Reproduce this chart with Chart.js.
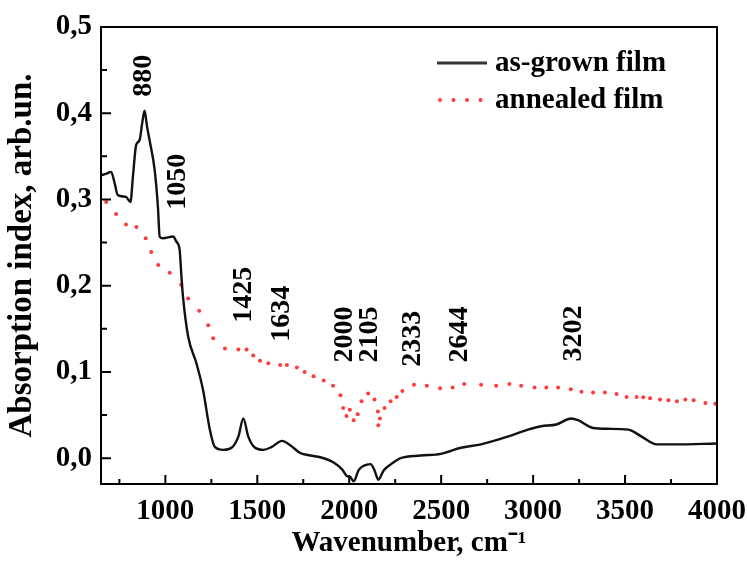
<!DOCTYPE html>
<html>
<head>
<meta charset="utf-8">
<script src="https://cdn.jsdelivr.net/npm/chart.js@4"></script>
<style>
  html, body { margin: 0; padding: 0; background: #fff; }
</style>
</head>
<body>
<canvas id="ftir-chart" width="747" height="561"></canvas>
<script>
// as-grown film (solid black line)
const asGrownX = [650, 680, 705, 725, 741, 786, 810, 825, 841, 860, 875, 887, 900, 914, 942, 960, 969, 987,
  1042, 1060, 1078, 1087, 1096, 1124, 1169, 1205, 1242, 1269, 1315, 1360, 1397, 1424, 1451, 1488, 1533,
  1579, 1634, 1679, 1733, 1788, 1843, 1915, 1961, 1988, 2006, 2024, 2051, 2078, 2116, 2137, 2158, 2188,
  2234, 2280, 2389, 2498, 2607, 2717, 2862, 2972, 3044, 3126, 3208, 3244, 3326, 3408, 3518, 3590, 3672,
  3772, 4000];
const asGrownY = [0.328, 0.330, 0.332, 0.318, 0.305, 0.303, 0.297, 0.330, 0.363, 0.369, 0.390, 0.403, 0.385,
  0.369, 0.334, 0.290, 0.257, 0.255, 0.257, 0.251, 0.241, 0.212, 0.187, 0.141, 0.110, 0.079, 0.033, 0.013,
  0.0096, 0.012, 0.025, 0.046, 0.025, 0.012, 0.0096, 0.013, 0.020, 0.015, 0.006, 0.003, 0.001, -0.005,
  -0.013, -0.021, -0.022, -0.027, -0.014, -0.009, -0.007, -0.014, -0.025, -0.014, -0.006, 0.0, 0.003,
  0.005, 0.012, 0.016, 0.025, 0.033, 0.037, 0.039, 0.046, 0.044, 0.035, 0.034, 0.033, 0.025, 0.016,
  0.016, 0.017];

// annealed film (red dots)
const annealedX = [678, 732, 786, 843, 893, 923, 961, 1024, 1086, 1124, 1184, 1233, 1260, 1324, 1397, 1442,
  1478, 1515, 1560, 1624, 1661, 1715, 1757, 1806, 1861, 1912, 1952, 1967, 1985, 2003, 2024, 2046, 2067,
  2103, 2137, 2156, 2158, 2167, 2192, 2225, 2258, 2289, 2352, 2422, 2494, 2562, 2625, 2717, 2799, 2871,
  2935, 3008, 3072, 3136, 3205, 3263, 3326, 3390, 3454, 3508, 3563, 3599, 3636, 3690, 3736, 3782, 3828,
  3873, 3937, 3991];
const annealedY = [0.297, 0.283, 0.271, 0.268, 0.255, 0.239, 0.224, 0.215, 0.201, 0.185, 0.171, 0.154, 0.139,
  0.127, 0.126, 0.126, 0.119, 0.113, 0.110, 0.108, 0.108, 0.105, 0.100, 0.095, 0.090, 0.084, 0.073, 0.058,
  0.049, 0.056, 0.044, 0.051, 0.066, 0.075, 0.068, 0.054, 0.038, 0.046, 0.058, 0.066, 0.071, 0.078, 0.085,
  0.084, 0.081, 0.082, 0.086, 0.085, 0.084, 0.086, 0.084, 0.082, 0.082, 0.082, 0.080, 0.077, 0.076, 0.076,
  0.0745, 0.071, 0.071, 0.0707, 0.0695, 0.068, 0.067, 0.066, 0.068, 0.067, 0.064, 0.063];

// peak labels: text, wavenumber of label centre, value at label foot
const peakLabels = ['880', '1050', '1425', '1634', '2000', '2105', '2333', '2644', '3202'];
const peakX = [877, 1060, 1420, 1630, 1968, 2106, 2341, 2596, 3216];
const peakY = [0.419, 0.288, 0.157, 0.135, 0.111, 0.111, 0.106, 0.111, 0.112];

const xTickValues = [1000, 1500, 2000, 2500, 3000, 3500, 4000];
const yTickValues = [0, 0.1, 0.2, 0.3, 0.4, 0.5];
const xMinor = [750, 1250, 1750, 2250, 2750, 3250, 3750];
const yMinor = [0.05, 0.15, 0.25, 0.35, 0.45];

const serif = '"Liberation Serif", "Times New Roman", serif';
const bigFont = { family: serif, size: 29, weight: 'bold' };

function toPoints(xs, ys) {
  return xs.map((x, i) => ({ x: x, y: ys[i] }));
}

// frame + inward ticks (like Origin)
const framePlugin = {
  id: 'frame',
  afterDraw(chart) {
    const { ctx, chartArea: a, scales } = chart;
    ctx.save();
    ctx.strokeStyle = '#000';
    ctx.lineWidth = 2;
    ctx.strokeRect(a.left, a.top, a.right - a.left, a.bottom - a.top);
    ctx.beginPath();
    xTickValues.forEach(v => {
      const px = scales.x.getPixelForValue(v);
      ctx.moveTo(px, a.bottom); ctx.lineTo(px, a.bottom - 9);
    });
    xMinor.forEach(v => {
      const px = scales.x.getPixelForValue(v);
      ctx.moveTo(px, a.bottom); ctx.lineTo(px, a.bottom - 5);
    });
    yTickValues.forEach(v => {
      const py = scales.y.getPixelForValue(v);
      ctx.moveTo(a.left, py); ctx.lineTo(a.left + 10, py);
    });
    yMinor.forEach(v => {
      const py = scales.y.getPixelForValue(v);
      ctx.moveTo(a.left, py); ctx.lineTo(a.left + 6, py);
    });
    ctx.stroke();
    ctx.restore();
  }
};

const peakPlugin = {
  id: 'peaks',
  afterDatasetsDraw(chart) {
    const { ctx, scales } = chart;
    ctx.save();
    ctx.fillStyle = '#000';
    ctx.font = 'bold 28px ' + serif;
    ctx.textAlign = 'left';
    ctx.textBaseline = 'middle';
    peakLabels.forEach((txt, i) => {
      ctx.save();
      ctx.translate(scales.x.getPixelForValue(peakX[i]), scales.y.getPixelForValue(peakY[i]));
      ctx.rotate(-Math.PI / 2);
      ctx.fillText(txt, 0, 1);
      ctx.restore();
    });
    ctx.restore();
  }
};

const legendPlugin = {
  id: 'innerLegend',
  afterDraw(chart) {
    const { ctx, chartArea: a } = chart;
    const x0 = a.right - 280;
    const y1 = a.top + 36, y2 = a.top + 73;
    ctx.save();
    ctx.strokeStyle = '#333';
    ctx.lineWidth = 3;
    ctx.beginPath();
    ctx.moveTo(x0, y1); ctx.lineTo(x0 + 50, y1);
    ctx.stroke();
    ctx.fillStyle = '#ff3b3b';
    for (let k = 0; k < 4; k++) {
      ctx.beginPath();
      ctx.arc(x0 + 3 + k * 13.5, y2, 2, 0, Math.PI * 2);
      ctx.fill();
    }
    ctx.fillStyle = '#000';
    ctx.font = 'bold 29px ' + serif;
    ctx.textAlign = 'left';
    ctx.textBaseline = 'middle';
    ctx.fillText(chart.data.datasets[0].label, x0 + 58, y1 + 1);
    ctx.fillText(chart.data.datasets[1].label, x0 + 58, y2 + 1);
    ctx.restore();
  }
};

const ctx1 = document.querySelector('#ftir-chart').getContext('2d');
const chart1 = new Chart(ctx1, {
  type: 'line',
  data: {
    datasets: [{
      label: 'as-grown film',
      data: toPoints(asGrownX, asGrownY),
      borderColor: '#111',
      borderWidth: 2.4,
      pointRadius: 0,
      cubicInterpolationMode: 'monotone',
      fill: false
    }, {
      label: 'annealed film',
      data: toPoints(annealedX, annealedY),
      showLine: false,
      pointRadius: 2,
      pointBorderWidth: 0,
      pointBackgroundColor: '#ff3b3b',
      borderColor: '#ff3b3b'
    }]
  },
  options: {
    responsive: false,
    animation: false,
    devicePixelRatio: 1,
    layout: { padding: { top: 27, right: 30, left: 0, bottom: 0 } },
    plugins: { legend: { display: false }, tooltip: { enabled: false } },
    scales: {
      x: {
        type: 'linear',
        min: 650,
        max: 4000,
        grid: { display: false, drawTicks: false },
        border: { display: false },
        afterBuildTicks(s) { s.ticks = xTickValues.map(v => ({ value: v })); },
        ticks: { autoSkip: false, maxRotation: 0, color: '#000', font: bigFont, padding: 10,
                 callback: v => String(v) },
        title: { display: true, text: 'Wavenumber, cm\u207B\u00B9', color: '#000', font: bigFont,
                 padding: { top: 0, bottom: 0 } },
        afterFit(s) { s.height = 77; s.paddingLeft = 0; s.paddingRight = 0; }
      },
      y: {
        min: -0.03,
        max: 0.5,
        grid: { display: false, drawTicks: false },
        border: { display: false },
        afterBuildTicks(s) { s.ticks = yTickValues.map(v => ({ value: v })); },
        ticks: { color: '#000', font: bigFont, padding: 9,
                 callback: v => v.toFixed(1).replace('.', ',') },
        title: { display: true, text: 'Absorption index, arb.un.', color: '#000',
                 font: { family: serif, size: 33, weight: 'bold' },
                 padding: { top: 3, bottom: 0 } },
        afterFit(s) { s.width = 101; s.paddingTop = 0; s.paddingBottom = 0; }
      }
    }
  },
  plugins: [framePlugin, peakPlugin, legendPlugin]
});
</script>
</body>
</html>
